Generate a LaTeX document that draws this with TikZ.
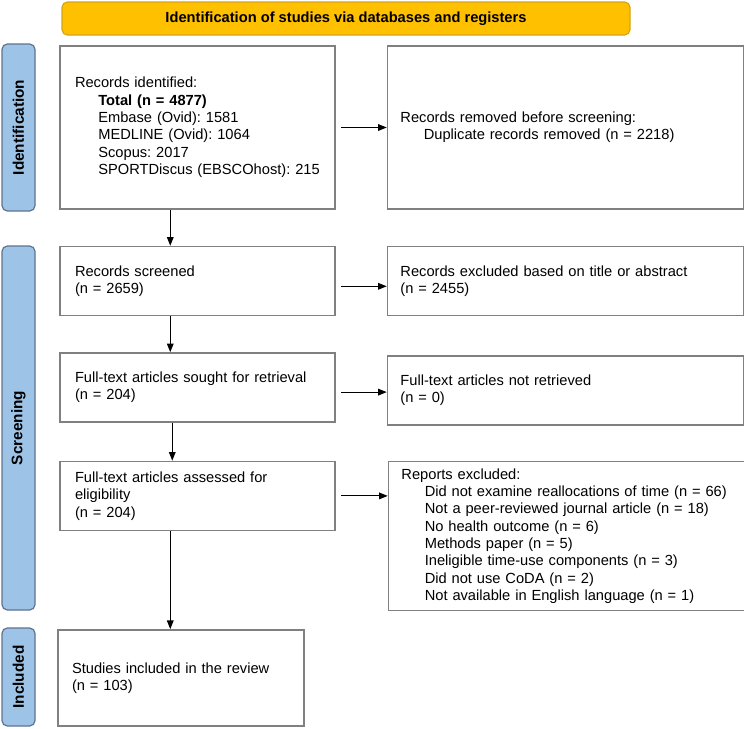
\documentclass[tikz,border=0pt]{standalone}
\usepackage{fontspec}
\setmainfont{Liberation Sans}
\usetikzlibrary{positioning,arrows.meta}

\definecolor{hdrfill}{RGB}{255,192,0}
\definecolor{hdrline}{RGB}{214,165,20}
\definecolor{sidefill}{RGB}{157,195,230}
\definecolor{sideline}{RGB}{95,115,145}
\definecolor{boxline}{RGB}{128,128,128}
\newcommand{\ind}{\hspace*{17.5pt}}
\frenchspacing

\begin{document}
\begin{tikzpicture}[x=0.75pt,y=-0.75pt, >={Triangle[length=6.5pt,width=5pt]}, node distance=27pt,
  txt/.style={font=\fontsize{11}{13}\selectfont},
  box/.style={txt, draw=boxline, line width=1.1pt, align=left, inner xsep=11.25pt, text width=183.75pt},
  rbox/.style={txt, draw=boxline, line width=1.1pt, align=left, inner xsep=9.75pt, text width=247.5pt},
  side/.style={draw=sideline, fill=sidefill, line width=0.9pt, rounded corners=4pt, rotate=90,
    minimum height=24.75pt, font=\fontsize{11.5}{13}\selectfont\bfseries},
  link/.style={->, line width=0.8pt}]
  \useasboundingbox (0,0) rectangle (744,729);

  % header and phase labels
  \node[draw=hdrline, fill=hdrfill, line width=0.9pt, rounded corners=4pt, minimum width=426pt, minimum height=24.75pt,
    font=\fontsize{11}{13}\selectfont\bfseries] (hdr) at (346,18.5) {Identification of studies via databases and registers};
  \node[side, minimum width=125.25pt] (ph_id)  at (18.5,127.5) {Identification};
  \node[side, minimum width=273pt]    (ph_scr) at (18.5,428)   {Screening};
  \node[side, minimum width=73.5pt]   (ph_inc) at (18.5,677)   {Included};

  % main column
  \node[box, minimum height=122.25pt] (rec_id) at (197.5,127.5) {Records identified:\\
    \ind\textbf{Total (n = 4877)}\\
    \ind Embase (Ovid): 1581\\
    \ind MEDLINE (Ovid): 1064\\
    \ind Scopus: 2017\\
    \ind SPORTDiscus (EBSCOhost): 215};
  \node[box, minimum height=51.75pt] (scr)  [below=of rec_id] {Records screened\\(n = 2659)};
  \node[box, minimum height=51.75pt] (sought) [below=27pt of scr] {Full-text articles sought for retrieval\\(n = 204)};
  \node[box, minimum height=51.75pt] (elig) [below=28.5pt of sought] {Full-text articles assessed for\\eligibility\\(n = 204)};
  \node[box, text width=163.5pt, inner xsep=10.5pt, minimum height=72pt] (incl) [below=73.5pt of elig.south west, anchor=north west, xshift=-1.5pt]
    {Studies included in the review\\(n = 103)};

  % side column
  \node[rbox, minimum height=122.25pt] (rem_dup) [right=38.25pt of rec_id] {Records removed before screening:\\
    \ind Duplicate records removed (n = 2218)};
  \node[rbox, minimum height=51.75pt] (scr_ex) [right=38.25pt of scr] {Records excluded based on title or abstract\\(n = 2455)};
  \node[rbox, minimum height=51.75pt] (not_ret) [right=38.25pt of sought, yshift=-2.25pt] {Full-text articles not retrieved\\(n = 0)};
  \node[rbox, minimum height=111.75pt] (rep_ex) [right=39pt of elig.north east, anchor=north west] {Reports excluded:\\
    \ind Did not examine reallocations of time (n = 66)\\
    \ind Not a peer-reviewed journal article (n = 18)\\
    \ind No health outcome (n = 6)\\
    \ind Methods paper (n = 5)\\
    \ind Ineligible time-use components (n = 3)\\
    \ind Did not use CoDA (n = 2)\\
    \ind Not available in English language (n = 1)};

  % arrows
  \draw[link] ([xshift=4pt]rec_id.east) -- (rec_id.east -| rem_dup.west);
  \draw[link] ([xshift=4pt,yshift=-4pt]scr.east) -- ([yshift=-4pt]scr.east -| scr_ex.west);
  \draw[link] ([xshift=4pt,yshift=-3.5pt]sought.east) -- ([yshift=-3.5pt]sought.east -| not_ret.west);
  \draw[link] ([xshift=4pt]elig.east) -- (elig.east -| rep_ex.west);
  \draw[link] ([xshift=83.25pt]rec_id.south west) -- ([xshift=83.25pt]scr.north west);
  \draw[link] ([xshift=83.25pt]scr.south west) -- ([xshift=83.25pt]sought.north west);
  \draw[link] ([xshift=84.75pt]sought.south west) -- ([xshift=84.75pt]elig.north west);
  \draw[link] ([xshift=83.25pt]elig.south west) coordinate (d4) -- (d4 |- incl.north);
\end{tikzpicture}
\end{document}
